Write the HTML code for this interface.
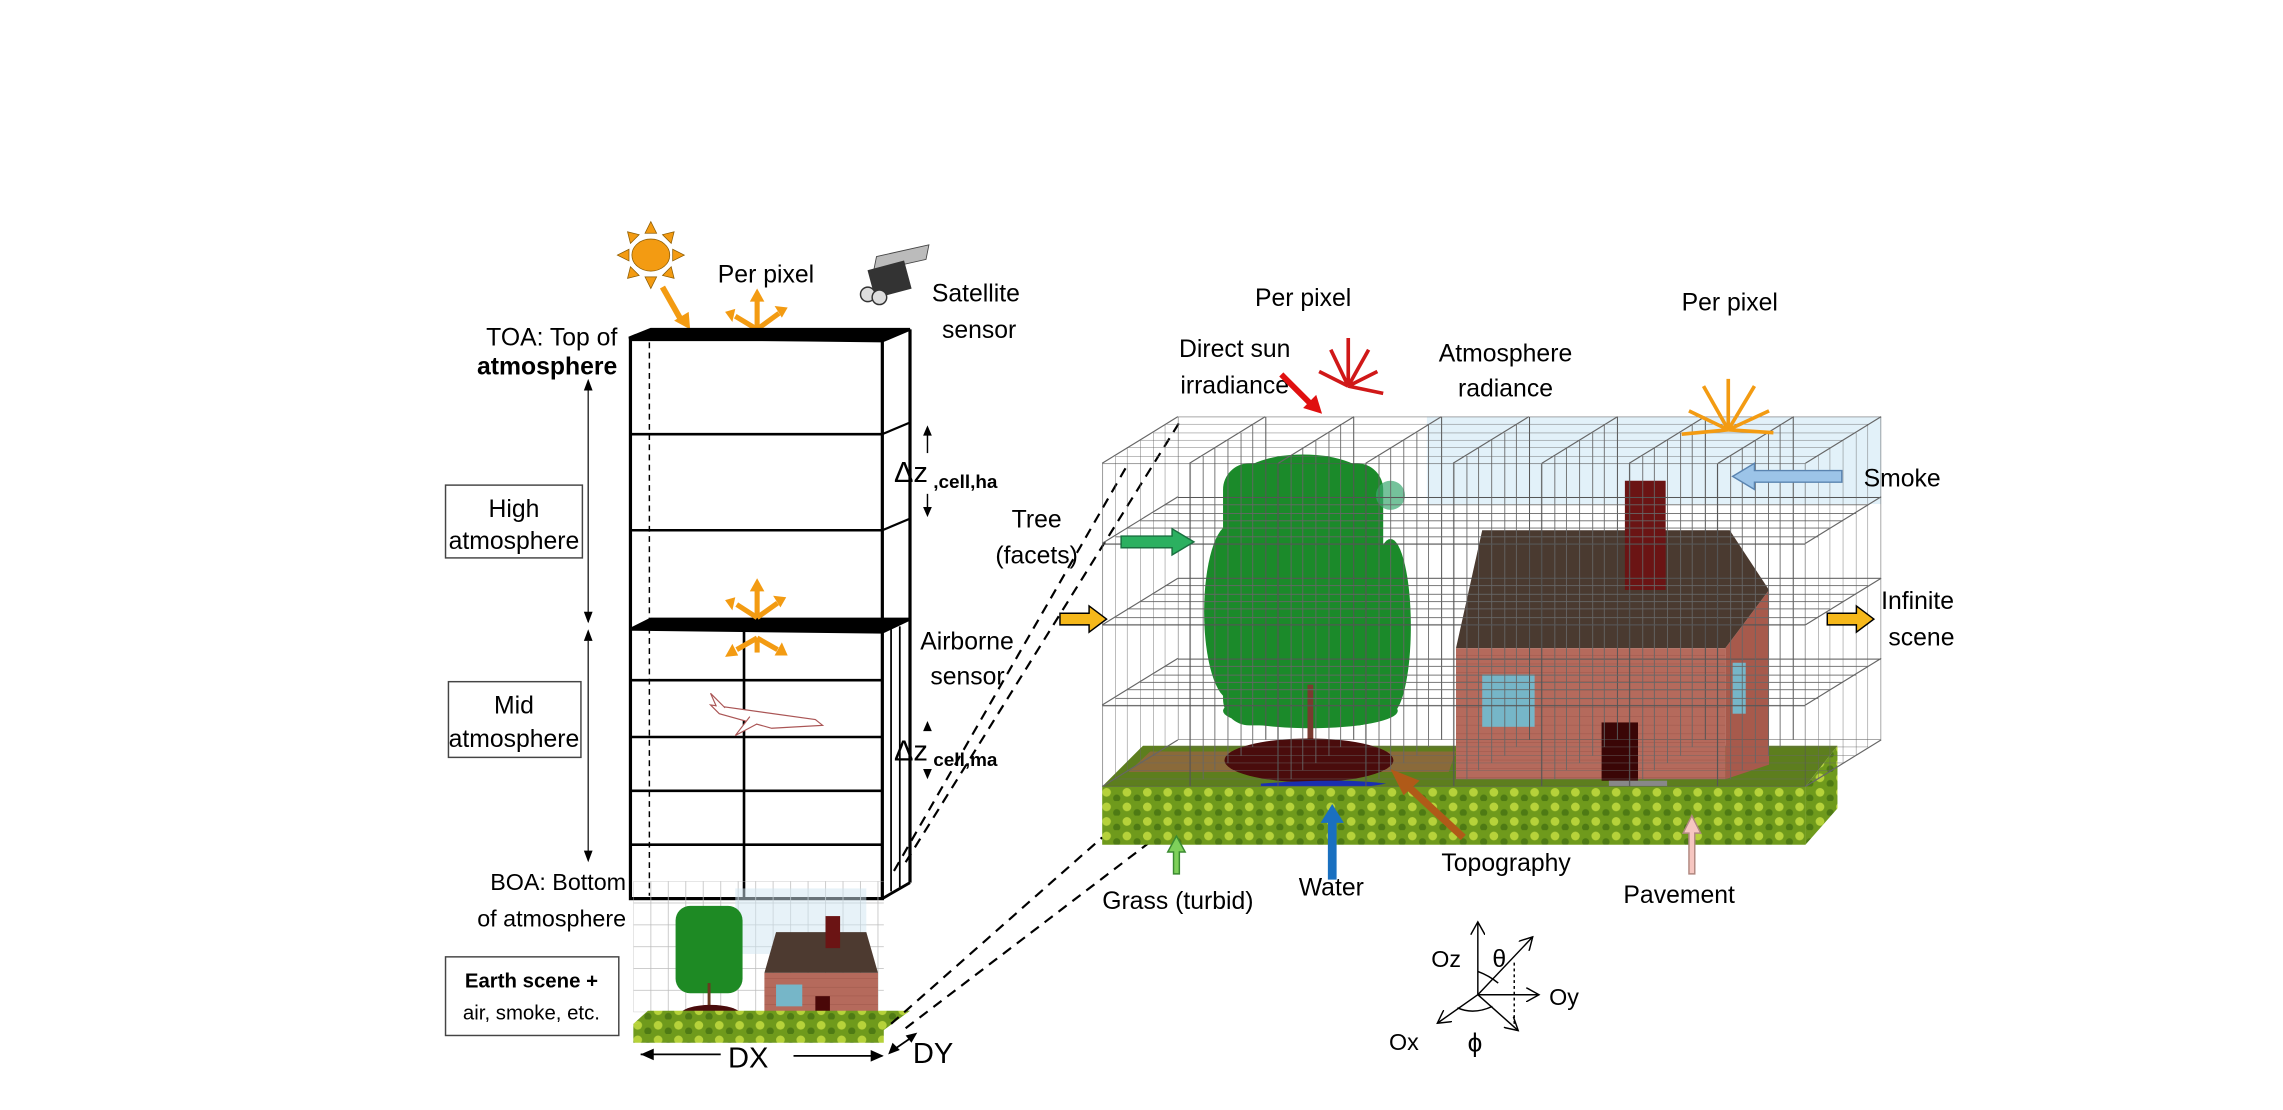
<!DOCTYPE html>
<html><head><meta charset="utf-8"><style>
html,body{margin:0;padding:0;background:#fff;}
svg{display:block;}
text{font-family:"Liberation Sans",Arial,sans-serif;fill:#000;}
</style></head><body>
<svg width="2283" height="1110" viewBox="0 0 1568 762" xmlns="http://www.w3.org/2000/svg">
<defs>
<pattern id="g0" patternUnits="userSpaceOnUse" x="757" y="318" width="60.375" height="55.5"><rect width="60.375" height="55.5" fill="none" stroke="#555" stroke-width="0.8"/></pattern>
<pattern id="g1" patternUnits="userSpaceOnUse" x="766" y="313" width="60.375" height="55.5"><rect width="60.375" height="55.5" fill="none" stroke="#666" stroke-width="0.6"/></pattern>
<pattern id="g2" patternUnits="userSpaceOnUse" x="774" y="307" width="60.375" height="55.5"><rect width="60.375" height="55.5" fill="none" stroke="#666" stroke-width="0.6"/></pattern>
<pattern id="g3" patternUnits="userSpaceOnUse" x="783" y="302" width="60.375" height="55.5"><rect width="60.375" height="55.5" fill="none" stroke="#666" stroke-width="0.6"/></pattern>
<pattern id="g4" patternUnits="userSpaceOnUse" x="792" y="297" width="60.375" height="55.5"><rect width="60.375" height="55.5" fill="none" stroke="#666" stroke-width="0.6"/></pattern>
<pattern id="g5" patternUnits="userSpaceOnUse" x="800" y="291" width="60.375" height="55.5"><rect width="60.375" height="55.5" fill="none" stroke="#666" stroke-width="0.6"/></pattern>
<pattern id="g6" patternUnits="userSpaceOnUse" x="809" y="286" width="60.375" height="55.5"><rect width="60.375" height="55.5" fill="none" stroke="#555" stroke-width="0.7"/></pattern>
<pattern id="s0" patternUnits="userSpaceOnUse" x="435" y="605" width="12" height="15"><rect width="12" height="15" fill="none" stroke="#bbb" stroke-width="0.5"/></pattern>
<pattern id="grass" patternUnits="userSpaceOnUse" width="14" height="10"><rect width="14" height="10" fill="#6f9a1c"/><circle cx="4" cy="4" r="3" fill="#b6d23a"/><circle cx="11" cy="8" r="2.5" fill="#4e7a14"/></pattern>
<pattern id="brick" patternUnits="userSpaceOnUse" width="10" height="6"><rect width="10" height="6" fill="#b56a5c"/><line x1="0" y1="6" x2="10" y2="6" stroke="#9a5448" stroke-width="0.6"/></pattern>
<marker id="av" markerWidth="10" markerHeight="10" refX="8" refY="5" orient="auto" markerUnits="userSpaceOnUse"><path d="M0,0 L9,5 L0,10" fill="none" stroke="#000" stroke-width="1"/></marker>
</defs>

<!-- Sun -->
<g transform="translate(447,175)">
<g fill="#f39b12" stroke="#8a5a00" stroke-width="0.5">
<polygon points="0,-23 -4,-15 4,-15"/><polygon points="0,23 -4,15 4,15"/>
<polygon points="-23,0 -15,-4 -15,4"/><polygon points="23,0 15,-4 15,4"/>
<polygon points="-16,-16 -14,-8 -8,-14"/><polygon points="16,-16 14,-8 8,-14"/>
<polygon points="-16,16 -14,8 -8,14"/><polygon points="16,16 14,8 8,14"/>
<ellipse rx="13" ry="11"/></g></g>
<line x1="455" y1="197" x2="468" y2="220" stroke="#f39b12" stroke-width="4"/>
<polygon points="463,220 474,226 473,214" fill="#f39b12"/>

<g stroke="#f39b12" stroke-width="3.5" fill="#f39b12">
<line x1="520" y1="226" x2="520" y2="205"/><polygon points="515,207 520,198 525,207" stroke="none"/>
<line x1="520" y1="226" x2="505" y2="217"/><polygon points="505,212 498,214 503,221" stroke="none"/>
<line x1="520" y1="226" x2="535" y2="215"/><polygon points="532,210 541,211 537,218" stroke="none"/>
</g>
<text x="493" y="194" font-size="17">Per pixel</text>

<g transform="translate(590,168)">
<polygon points="12,8 48,0 46,10 10,18" fill="#bbb" stroke="#444" stroke-width="0.6"/>
<rect x="8" y="14" width="26" height="20" fill="#333" transform="rotate(-15 20 24)"/>
<circle cx="6" cy="34" r="5" fill="#ddd" stroke="#333"/><circle cx="14" cy="36" r="5" fill="#ddd" stroke="#333"/>
</g>
<text x="640" y="207" font-size="17">Satellite</text>
<text x="647" y="232" font-size="17">sensor</text>

<text x="424" y="237" font-size="17" text-anchor="end">TOA: Top of</text>
<text x="424" y="257" font-size="17" text-anchor="end" font-weight="bold">atmosphere</text>
<line x1="404" y1="268" x2="404" y2="427" stroke="#333" stroke-width="1"/>
<polygon points="401,268 404,260 407,268" fill="#000"/><polygon points="401,420 404,428 407,420" fill="#000"/>
<line x1="404" y1="440" x2="404" y2="590" stroke="#333" stroke-width="1"/>
<polygon points="401,440 404,432 407,440" fill="#000"/><polygon points="401,584 404,592 407,584" fill="#000"/>
<rect x="306" y="333" width="94" height="50" fill="#fff" stroke="#444"/>
<text x="353" y="355" font-size="17" text-anchor="middle">High</text>
<text x="353" y="377" font-size="17" text-anchor="middle">atmosphere</text>
<rect x="308" y="468" width="91" height="52" fill="#fff" stroke="#444"/>
<text x="353" y="490" font-size="17" text-anchor="middle">Mid</text>
<text x="353" y="513" font-size="17" text-anchor="middle">atmosphere</text>
<text x="430" y="611" font-size="16" text-anchor="end">BOA: Bottom</text>
<text x="430" y="636" font-size="16" text-anchor="end">of atmosphere</text>
<rect x="306" y="657" width="119" height="54" fill="#fff" stroke="#444"/>
<text x="365" y="678" font-size="14" text-anchor="middle" font-weight="bold">Earth scene +</text>
<text x="365" y="700" font-size="14" text-anchor="middle">air, smoke, etc.</text>

<g stroke="#000" fill="none">
<polygon points="432,232 447,226 625,226 606,234" fill="#000" stroke-width="2"/>
<rect x="433" y="233" width="173" height="384" stroke-width="2.2"/>
<line x1="625" y1="226" x2="625" y2="606" stroke-width="2.2"/>
<line x1="606" y1="617" x2="625" y2="606" stroke-width="2"/>
<line x1="433" y1="298" x2="606" y2="298" stroke-width="1.8"/><line x1="606" y1="298" x2="625" y2="290" stroke-width="1.5"/>
<line x1="433" y1="364" x2="606" y2="364" stroke-width="1.8"/><line x1="606" y1="364" x2="625" y2="356" stroke-width="1.5"/>
<polygon points="433,432 447,425 625,425 606,434" fill="#000" stroke-width="2"/>
<line x1="433" y1="467" x2="606" y2="467" stroke-width="1.8"/>
<line x1="433" y1="506" x2="606" y2="506" stroke-width="1.8"/>
<line x1="433" y1="543" x2="606" y2="543" stroke-width="1.8"/>
<line x1="433" y1="580" x2="606" y2="580" stroke-width="1.8"/>
<line x1="511" y1="433" x2="511" y2="617" stroke-width="1.8"/>
<line x1="612" y1="432" x2="612" y2="612" stroke-width="1.2"/>
<line x1="618" y1="430" x2="618" y2="609" stroke-width="1.2"/>
<line x1="446" y1="228" x2="446" y2="615" stroke-width="1" stroke-dasharray="4,3"/>
</g>
<g stroke="#f39b12" stroke-width="3.5" fill="#f39b12">
<line x1="520" y1="424" x2="520" y2="404"/><polygon points="515,406 520,397 525,406" stroke="none"/>
<line x1="520" y1="424" x2="506" y2="415"/><polygon points="505,410 498,412 503,419" stroke="none"/>
<line x1="520" y1="424" x2="534" y2="414"/><polygon points="531,409 540,410 536,417" stroke="none"/>
<line x1="520" y1="438" x2="506" y2="446"/><polygon points="503,442 498,451 507,450" stroke="none"/>
<line x1="520" y1="438" x2="534" y2="446"/><polygon points="537,441 541,450 532,450" stroke="none"/>
<line x1="520" y1="438" x2="520" y2="448"/>
</g>
<g stroke="#a55" stroke-width="0.8" fill="#fff">
<path d="M488,484 L560,494 L565,498 L530,500 L494,490 Z"/>
<path d="M515,492 L505,505 L520,497"/>
<path d="M492,485 L488,476 L498,486"/>
</g>
<text x="614" y="331" font-size="20">Δz</text><text x="641" y="335" font-size="13" font-weight="bold">,cell,ha</text>
<line x1="637" y1="297" x2="637" y2="311" stroke="#000"/><polygon points="634,299 637,292 640,299" fill="#000"/>
<line x1="637" y1="339" x2="637" y2="350" stroke="#000"/><polygon points="634,348 637,355 640,348" fill="#000"/>
<text x="614" y="522" font-size="20">Δz</text><text x="641" y="526" font-size="13" font-weight="bold">cell,ma</text>
<polygon points="634,502 637,495 640,502" fill="#000"/><polygon points="634,528 637,535 640,528" fill="#000"/>
<text x="632" y="446" font-size="17">Airborne</text>
<text x="639" y="470" font-size="17">sensor</text>

<rect x="435" y="605" width="172" height="90" fill="url(#s0)"/>
<rect x="505" y="610" width="90" height="45" fill="#cfe6f2" opacity="0.5"/>
<g fill="#1e8a24"><rect x="464" y="622" width="46" height="60" rx="10"/></g>
<line x1="487" y1="675" x2="487" y2="693" stroke="#6a3a20" stroke-width="2"/>
<ellipse cx="488" cy="696" rx="20" ry="6" fill="#4a0c0c"/>
<rect x="478" y="700" width="40" height="3" fill="#1a2fb0"/>
<polygon points="525,668 533,640 595,640 603,668" fill="#4d3a30"/>
<rect x="525" y="668" width="78" height="30" fill="url(#brick)"/>
<rect x="567" y="629" width="10" height="22" fill="#6b1414"/>
<rect x="533" y="676" width="18" height="15" fill="#76b6c8"/>
<rect x="560" y="684" width="10" height="15" fill="#4a0808"/>
<polygon points="435,703 445,694 625,694 606,708" fill="url(#grass)"/>
<rect x="435" y="703" width="172" height="13" fill="url(#grass)"/>
<line x1="440" y1="724" x2="495" y2="724" stroke="#000" stroke-width="1.2"/><polygon points="440,724 449,720 449,728" fill="#000"/>
<line x1="545" y1="725" x2="606" y2="725" stroke="#000" stroke-width="1.2"/><polygon points="607,725 598,721 598,729" fill="#000"/>
<text x="500" y="733" font-size="20" font-family="Liberation Serif">DX</text>
<line x1="612" y1="722" x2="628" y2="711" stroke="#000" stroke-width="1.2"/>
<polygon points="610,724 613,716 618,721" fill="#000"/><polygon points="630,709 622,711 626,716" fill="#000"/>
<text x="627" y="730" font-size="20" font-family="Liberation Serif">DY</text>

<g stroke="#000" stroke-width="1.5" stroke-dasharray="7,5" fill="none">
<line x1="614" y1="598" x2="775" y2="318"/>
<line x1="622" y1="592" x2="810" y2="290"/>
<line x1="612" y1="703" x2="757" y2="575"/>
<line x1="622" y1="706" x2="790" y2="578"/>
</g>
<text x="712" y="362" font-size="17" text-anchor="middle">Tree</text>
<text x="712" y="387" font-size="17" text-anchor="middle">(facets)</text>

<rect x="980" y="286" width="312" height="60" fill="#d6ebf6" opacity="0.7"/>
<!-- tree -->
<g fill="#1b8a2a">
<rect x="840" y="318" width="110" height="180" rx="18"/>
<ellipse cx="895" cy="330" rx="45" ry="18"/><ellipse cx="845" cy="420" rx="18" ry="60"/><ellipse cx="955" cy="430" rx="14" ry="60"/>
<ellipse cx="900" cy="488" rx="60" ry="12"/>
</g>
<ellipse cx="955" cy="340" rx="10" ry="10" fill="#3aa870" opacity="0.7"/>
<line x1="900" y1="470" x2="900" y2="512" stroke="#7a3a30" stroke-width="4"/>
<polygon points="757,540 785,512 1262,512 1240,540" fill="#5d7e1e"/>
<polygon points="775,530 790,516 1000,516 995,530" fill="#8a6a3a"/>
<ellipse cx="899" cy="522" rx="58" ry="15" fill="#4a0c0c"/>
<path d="M866,538 Q920,534 952,538 Q920,544 866,541Z" fill="#1a2fb0"/>
<!-- house -->
<polygon points="1185,445 1215,405 1215,525 1185,535" fill="#a75a4c"/>
<rect x="1000" y="445" width="185" height="90" fill="url(#brick)"/>
<polygon points="1000,445 1018,364 1188,364 1215,405 1185,445" fill="#4a3a30"/>
<rect x="1116" y="330" width="28" height="75" fill="#6b1414"/>
<rect x="1018" y="463" width="36" height="36" fill="#76b6c8"/>
<rect x="1190" y="455" width="9" height="35" fill="#76b6c8"/>
<rect x="1100" y="496" width="25" height="40" fill="#3a0606"/>
<rect x="1105" y="536" width="40" height="4" fill="#888"/>
<rect x="757" y="540" width="483" height="40" fill="url(#grass)"/>
<polygon points="1240,540 1262,512 1262,555 1240,580" fill="url(#grass)"/>
<!-- grids -->
<rect x="809" y="286" width="483" height="222" fill="url(#g6)"/>
<rect x="800" y="291" width="483" height="222" fill="url(#g5)"/>
<rect x="792" y="297" width="483" height="222" fill="url(#g4)"/>
<rect x="783" y="302" width="483" height="222" fill="url(#g3)"/>
<rect x="774" y="307" width="483" height="222" fill="url(#g2)"/>
<rect x="766" y="313" width="483" height="222" fill="url(#g1)"/>
<rect x="757" y="318" width="483" height="222" fill="url(#g0)"/>
<g stroke="#666" stroke-width="0.8">
<line x1="757" y1="318" x2="809" y2="286"/><line x1="817" y1="318" x2="869" y2="286"/><line x1="878" y1="318" x2="930" y2="286"/>
<line x1="938" y1="318" x2="990" y2="286"/><line x1="998" y1="318" x2="1050" y2="286"/><line x1="1059" y1="318" x2="1111" y2="286"/>
<line x1="1119" y1="318" x2="1171" y2="286"/><line x1="1180" y1="318" x2="1232" y2="286"/><line x1="1240" y1="318" x2="1292" y2="286"/>
<line x1="1240" y1="373" x2="1292" y2="341"/><line x1="1240" y1="429" x2="1292" y2="397"/><line x1="1240" y1="484" x2="1292" y2="452"/><line x1="1240" y1="540" x2="1292" y2="508"/>
<line x1="757" y1="373" x2="809" y2="341"/><line x1="757" y1="429" x2="809" y2="397"/><line x1="757" y1="484" x2="809" y2="452"/><line x1="757" y1="540" x2="809" y2="508"/>
</g>

<text x="848" y="245" font-size="17" text-anchor="middle">Direct sun</text>
<text x="848" y="270" font-size="17" text-anchor="middle">irradiance</text>
<line x1="880" y1="257" x2="900" y2="277" stroke="#e01010" stroke-width="4"/><polygon points="895,280 908,284 904,271" fill="#e01010"/>
<text x="895" y="210" font-size="17" text-anchor="middle">Per pixel</text>
<g stroke="#d01818" stroke-width="2.5">
<line x1="926" y1="265" x2="926" y2="232"/><line x1="926" y1="265" x2="914" y2="240"/><line x1="926" y1="265" x2="940" y2="240"/>
<line x1="926" y1="265" x2="946" y2="255"/><line x1="926" y1="265" x2="906" y2="255"/><line x1="926" y1="265" x2="950" y2="270"/>
</g>
<text x="1034" y="248" font-size="17" text-anchor="middle">Atmosphere</text>
<text x="1034" y="272" font-size="17" text-anchor="middle">radiance</text>
<text x="1188" y="213" font-size="17" text-anchor="middle">Per pixel</text>
<g stroke="#f39b12" stroke-width="2.5">
<line x1="1187" y1="295" x2="1187" y2="260"/><line x1="1187" y1="295" x2="1170" y2="265"/><line x1="1187" y1="295" x2="1205" y2="265"/>
<line x1="1187" y1="295" x2="1160" y2="282"/><line x1="1187" y1="295" x2="1215" y2="282"/><line x1="1187" y1="295" x2="1155" y2="298"/><line x1="1187" y1="295" x2="1218" y2="297"/>
</g>
<polygon points="1265,323 1205,323 1205,318 1190,327 1205,336 1205,331 1265,331" fill="#9cc4e8" stroke="#5a84b0"/>
<text x="1280" y="334" font-size="17">Smoke</text>
<polygon points="770,368 805,368 805,363 820,372 805,381 805,376 770,376" fill="#2bb060" stroke="#1a7040"/>
<polygon points="728,421 748,421 748,416 760,425 748,434 748,429 728,429" fill="#f6b81a" stroke="#000"/>
<polygon points="1255,421 1275,421 1275,416 1287,425 1275,434 1275,429 1255,429" fill="#f6b81a" stroke="#000"/>
<text x="1292" y="418" font-size="17">Infinite</text>
<text x="1297" y="443" font-size="17">scene</text>
<polygon points="806,600 806,585 802,585 808,574 814,585 810,585 810,600" fill="#7ed05a" stroke="#3a8a30"/>
<text x="757" y="624" font-size="17">Grass (turbid)</text>
<polygon points="912,604 912,565 907,565 915,552 923,565 918,565 918,604" fill="#1a70c0"/>
<text x="892" y="615" font-size="17">Water</text>
<line x1="1005" y1="575" x2="965" y2="538" stroke="#b05a18" stroke-width="5"/><polygon points="955,528 975,536 964,546" fill="#b05a18"/>
<text x="990" y="598" font-size="17">Topography</text>
<polygon points="1160,600 1160,572 1156,572 1162,560 1168,572 1164,572 1164,600" fill="#f6c6c0" stroke="#b08880"/>
<text x="1115" y="620" font-size="17">Pavement</text>

<!-- axes -->
<g stroke="#000" stroke-width="1" fill="none">
<line x1="1015" y1="683" x2="1015" y2="634" marker-end="url(#av)"/>
<line x1="1015" y1="683" x2="1056" y2="683" marker-end="url(#av)"/>
<line x1="1015" y1="683" x2="988" y2="702" marker-end="url(#av)"/>
<line x1="1015" y1="683" x2="1052" y2="644" marker-end="url(#av)"/>
<line x1="1015" y1="683" x2="1042" y2="707" marker-end="url(#av)"/>
<line x1="1040" y1="661" x2="1040" y2="705" stroke-dasharray="2,2"/>
<path d="M1015,667 Q1023,670 1029,675"/>
<path d="M1001,692 Q1012,697 1025,691"/>
</g>
<text x="983" y="664" font-size="16">Oz</text>
<text x="1064" y="690" font-size="16">Oy</text>
<text x="954" y="721" font-size="16">Ox</text>
<text x="1025" y="664" font-size="17" font-family="Liberation Serif">θ</text>
<text x="1008" y="722" font-size="18" font-family="Liberation Serif">ϕ</text>
</svg>
</body></html>
